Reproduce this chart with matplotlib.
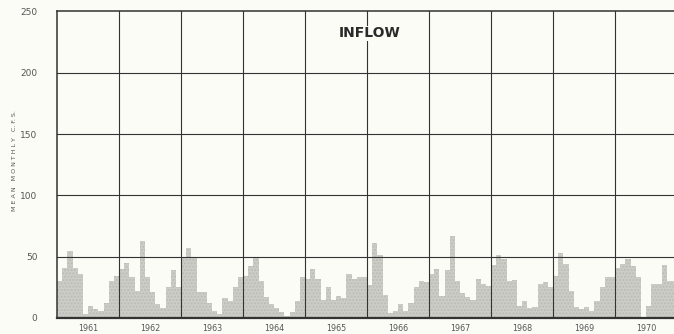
import matplotlib.pyplot as plt
import numpy as np

# mean monthly inflow (c.f.s.), one list per year
years = [1961, 1962, 1963, 1964, 1965, 1966, 1967, 1968, 1969, 1970]
flow_1961 = [30, 41, 55, 41, 36, 3, 10, 7, 6, 12, 30, 34]
flow_1962 = [40, 45, 33, 22, 63, 33, 21, 11, 8, 25, 39, 25]
flow_1963 = [50, 57, 50, 21, 21, 12, 6, 3, 16, 14, 25, 33]
flow_1964 = [34, 42, 50, 30, 17, 11, 8, 5, 2, 5, 14, 33]
flow_1965 = [32, 40, 32, 15, 25, 15, 18, 16, 36, 32, 33, 33]
flow_1966 = [27, 61, 51, 19, 4, 6, 11, 6, 12, 25, 30, 29]
flow_1967 = [36, 40, 18, 39, 67, 30, 20, 17, 15, 32, 28, 26]
flow_1968 = [43, 51, 48, 30, 31, 10, 14, 8, 9, 28, 29, 25]
flow_1969 = [34, 53, 44, 22, 9, 7, 9, 6, 14, 25, 33, 33]
flow_1970 = [41, 44, 48, 42, 33, 0, 10, 28, 28, 43, 30, 30]
y_ticks = [0, 50, 100, 150, 200, 250]

flow = np.concatenate([flow_1961, flow_1962, flow_1963, flow_1964, flow_1965,
                       flow_1966, flow_1967, flow_1968, flow_1969, flow_1970])
months = np.arange(len(flow))

bg = "#fcfcf6"
ink = "#333333"

fig = plt.figure(figsize=(6.74, 3.34), dpi=100, facecolor=bg)
ax = fig.add_axes([0.0846, 0.048, 0.9154, 0.918], facecolor=bg)

# stippled monthly bars
ax.bar(months, flow, width=1.0, align="edge", color="#cdcdc7",
       edgecolor="#bcbcb6", linewidth=0, hatch=".....", zorder=2)

# grid: horizontal every 50, vertical at each year boundary
for v in y_ticks[1:-1]:
    ax.axhline(v, color=ink, lw=0.8, zorder=3)
for i in range(1, len(years)):
    ax.axvline(12 * i, color=ink, lw=0.8, zorder=3)

ax.set_xlim(0, 119.4)
ax.set_ylim(0, 250)

for s in ["left", "top"]:
    ax.spines[s].set_linewidth(1.1)
    ax.spines[s].set_color(ink)
ax.spines["bottom"].set_linewidth(1.6)
ax.spines["bottom"].set_color(ink)
ax.spines["right"].set_visible(False)

ax.set_yticks(y_ticks)
ax.set_yticklabels([str(v) for v in y_ticks], fontsize=6.5, color="#555555")
ax.tick_params(axis="y", length=0, pad=14)

ax.set_xticks([12 * i + 6 for i in range(len(years))])
ax.set_xticklabels([str(y) for y in years], fontsize=5.8, color="#555555")
ax.tick_params(axis="x", length=0, pad=4)

fig.text(0.022, 0.52, "M E A N   M O N T H L Y   C. F. S.", rotation=90,
         ha="center", va="center", fontsize=4.6, color="#555555")

ax.text(60.5, 232, "INFLOW", ha="center", va="center", fontsize=10,
        fontweight="bold", color="#2a2a2a", zorder=4,
        bbox=dict(facecolor=bg, edgecolor="none", pad=0.5))

plt.savefig("out.png", dpi=100, facecolor=bg)
